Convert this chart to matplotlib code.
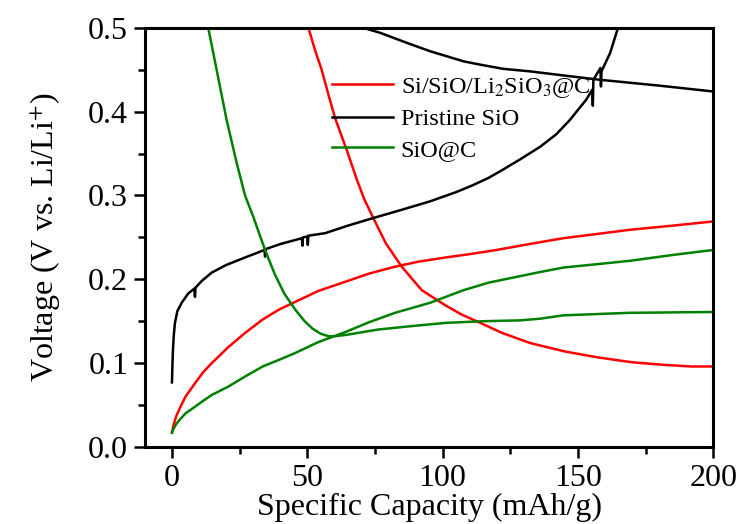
import matplotlib
matplotlib.use('Agg')
import matplotlib.pyplot as plt
from matplotlib.ticker import MultipleLocator

plt.rcParams['font.family'] = ['Liberation Serif', 'DejaVu Serif']
plt.rcParams['mathtext.fontset'] = 'stix'

# Si/SiO/Li2SiO3@C (red)
red_dis_x = [0, 0.5, 1.5, 3, 5, 8.5, 11.5, 14.7, 20.8, 27, 33.5, 39.6, 45.5, 54, 64, 73, 82.4,
             91, 101, 110, 120, 132, 144.6, 157, 169, 185, 200]
red_dis_y = [0.017, 0.025, 0.036, 0.047, 0.060, 0.076, 0.089, 0.100, 0.119, 0.136, 0.152, 0.164, 0.173, 0.186, 0.197,
             0.207, 0.215, 0.221, 0.226, 0.230, 0.235, 0.242, 0.249, 0.254, 0.259, 0.264, 0.269]
red_chg_x = [50.4, 53, 55.3, 58, 60.3, 64.6, 68.3, 71, 74.4, 79, 84.9, 92.3, 101, 107, 113.9,
             122, 132.3, 145, 157, 170, 181.5, 192, 200]
red_chg_y = [0.5, 0.472, 0.450, 0.418, 0.392, 0.354, 0.319, 0.296, 0.273, 0.243, 0.215, 0.187, 0.169, 0.158, 0.148,
             0.136, 0.124, 0.114, 0.107, 0.101, 0.098, 0.096, 0.096]

# Pristine SiO (black)
blk_dis_x = [0, 0.2, 0.4, 0.7, 1.1, 2, 3.6, 6, 8.3, 8.5, 8.7, 11, 14.7, 20, 27, 34.2, 34.4, 34.6,
             40, 48, 48.2, 48.4, 50, 50.2, 50.4, 56.6, 65, 74.3, 85, 95.4, 105, 111, 117, 122.4,
             128.6, 136, 142, 147, 153, 155.3, 155.5, 155.7, 158.3, 158.5, 158.7, 161.9, 164.8]
blk_dis_y = [0.077, 0.100, 0.118, 0.134, 0.148, 0.162, 0.172, 0.183, 0.189, 0.179, 0.190, 0.198, 0.208, 0.217, 0.226, 0.235, 0.227, 0.236,
             0.242, 0.249, 0.240, 0.250, 0.251, 0.241, 0.252, 0.255, 0.264, 0.273, 0.283, 0.293, 0.304, 0.312, 0.321, 0.331,
             0.343, 0.358, 0.373, 0.390, 0.414, 0.426, 0.407, 0.438, 0.452, 0.430, 0.448, 0.470, 0.5]
blk_chg_x = [70.6, 76.9, 86.8, 95.4, 107.7, 113.9, 122.4, 132.3, 145, 158, 180, 200]
blk_chg_y = [0.5, 0.494, 0.482, 0.472, 0.460, 0.456, 0.451, 0.448, 0.443, 0.438, 0.431, 0.424]

# SiO@C (green)
grn_dis_x = [0, 0.5, 1.5, 3, 5, 8.5, 11.5, 14.7, 20.8, 27, 33.5, 39.6, 45.5, 54, 64, 73, 82.4,
             95.4, 107.7, 117, 126, 135, 144.6, 157, 169, 185, 200]
grn_dis_y = [0.017, 0.021, 0.027, 0.033, 0.040, 0.048, 0.055, 0.062, 0.072, 0.084, 0.096, 0.104, 0.112, 0.125, 0.137,
             0.149, 0.160, 0.172, 0.187, 0.196, 0.202, 0.208, 0.214, 0.218, 0.222, 0.229, 0.235]
grn_chg_x = [13.4, 16.5, 20.2, 23.9, 27, 30, 34.4, 38, 41.5, 45.5, 49, 52, 55, 58, 60, 65, 76, 88, 101,
             115, 128.6, 136, 144.6, 169, 200]
grn_chg_y = [0.5, 0.450, 0.390, 0.339, 0.300, 0.275, 0.235, 0.206, 0.183, 0.164, 0.150, 0.141, 0.135, 0.132, 0.132,
             0.134, 0.140, 0.144, 0.148, 0.150, 0.151, 0.153, 0.157, 0.160, 0.161]

fig = plt.figure(figsize=(7.43, 5.24), dpi=100)
ax = fig.add_axes([0.195, 0.147, 0.765, 0.8])

ax.plot(red_dis_x, red_dis_y, color='#ff0000', lw=1.8, label=r'Si/SiO/Li$_2$SiO$_3$@C')
ax.plot(red_chg_x, red_chg_y, color='#ff0000', lw=1.8)
ax.plot(blk_dis_x, blk_dis_y, color='black', lw=1.8, label='Pristine SiO')
ax.plot(blk_chg_x, blk_chg_y, color='black', lw=1.8)
ax.plot(grn_dis_x, grn_dis_y, color='#008000', lw=1.8, label='SiO@C')
ax.plot(grn_chg_x, grn_chg_y, color='#008000', lw=1.8)

ax.set_xlim(-10, 200)
ax.set_ylim(0, 0.5)
ax.xaxis.set_major_locator(MultipleLocator(50))
ax.xaxis.set_minor_locator(MultipleLocator(25))
ax.yaxis.set_major_locator(MultipleLocator(0.1))
ax.yaxis.set_minor_locator(MultipleLocator(0.05))
ax.tick_params(which='both', direction='out', width=1.8, labelsize=23, top=False, right=False)
ax.tick_params(which='major', length=8, pad=4)
ax.tick_params(which='minor', length=5)
for s in ax.spines.values():
    s.set_linewidth(2.2)

ax.set_xlabel('Specific Capacity (mAh/g)', fontsize=23, labelpad=0)
ax.set_ylabel(r'Voltage (V vs. Li/Li$^{+}$)', fontsize=23, labelpad=18)

ax.legend(loc='upper left', bbox_to_anchor=(0.33, 0.885), frameon=False, fontsize=17.5,
          handlelength=2.5, handletextpad=0.3, labelspacing=0.35, borderpad=0, borderaxespad=0)

fig.savefig('out.png', dpi=100)
